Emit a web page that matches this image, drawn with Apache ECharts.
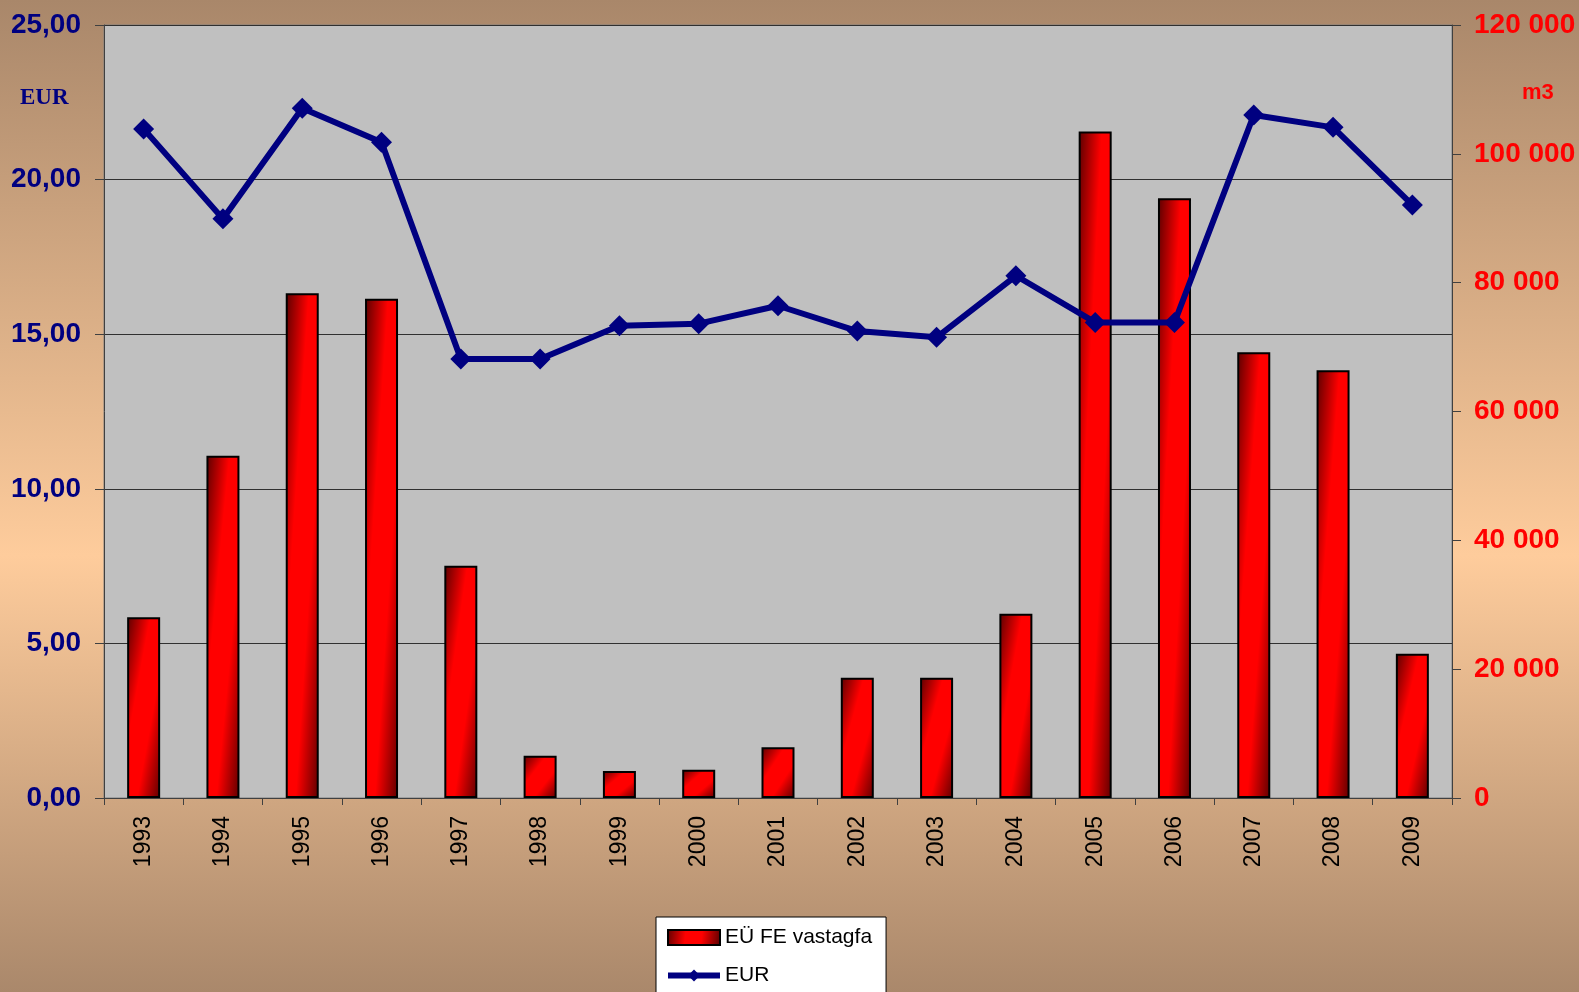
<!DOCTYPE html>
<html>
<head>
<meta charset="utf-8">
<title>EÜ FE vastagfa</title>
<script src="https://cdn.jsdelivr.net/npm/echarts@6/dist/echarts.min.js"></script>
<style>
  html, body { margin: 0; padding: 0; }
  #chart { width: 1579px; height: 992px; }
</style>
</head>
<body>
<div id="chart"></div>
<script>
// data
const years = ['1993', '1994', '1995', '1996', '1997', '1998', '1999', '2000', '2001',
  '2002', '2003', '2004', '2005', '2006', '2007', '2008', '2009']
// m3, right axis
const volumes = [28050, 53140, 78350, 77510, 36060, 6570, 4190, 4400, 7870,
  18680, 18680, 28610, 103450, 93100, 69200, 66400, 22380]
// EUR, left axis
const prices = [21.64, 18.73, 22.31, 21.21, 14.2, 14.2, 15.27, 15.34, 15.92,
  15.1, 14.9, 16.89, 15.38, 15.38, 22.09, 21.69, 19.18]

const barName = 'EÜ FE vastagfa'
const lineName = 'EUR'
const BAR_W = 33
const font = '"Liberation Sans", Arial, sans-serif'

const stops = [
  { offset: 0, color: '#5a0000' },
  { offset: 0.35, color: '#ff0000' },
  { offset: 0.65, color: '#ff0000' },
  { offset: 1, color: '#5e0000' }
]

// diagonal gradient whose bands run corner to corner, like the office fill
function diagGradient(ratio) {
  const r2 = ratio * ratio
  return new echarts.graphic.LinearGradient(0, 0, 2 * r2 / (r2 + 1), 2 / (r2 + 1), stops)
}

function fmtEur(v) {
  return v.toFixed(2).replace('.', ',')
}

function fmtVol(v) {
  return String(v).replace(/\B(?=(\d{3})+(?!\d))/g, ' ')
}

const chart = echarts.init(document.getElementById('chart'))

chart.setOption({
  animation: false,
  backgroundColor: new echarts.graphic.LinearGradient(0, 0, 0, 1, [
    { offset: 0, color: '#a9876a' },
    { offset: 0.56, color: '#fecc9c' },
    { offset: 1, color: '#aa886b' }
  ]),
  grid: {
    left: 104, right: 127, top: 25, bottom: 194,
    show: true,
    backgroundColor: '#c0c0c0',
    borderColor: '#808080',
    borderWidth: 1,
    containLabel: false,
    outerBoundsMode: 'none'
  },
  legend: {
    orient: 'vertical',
    left: 656,
    top: 917,
    height: 200,
    padding: [10, 14, 24, 9],
    itemGap: 17,
    itemWidth: 52,
    itemHeight: 15,
    backgroundColor: '#ffffff',
    borderColor: '#000000',
    borderWidth: 1,
    borderRadius: 0,
    textStyle: { fontFamily: font, fontSize: 21, color: '#000' },
    data: [
      { name: barName, icon: 'rect' },
      { name: lineName, lineStyle: { width: 6, color: '#000080' } }
    ]
  },
  xAxis: {
    type: 'category',
    data: years,
    axisLine: { lineStyle: { color: '#404040', width: 1 } },
    axisTick: { show: true, length: 7, lineStyle: { color: '#404040' } },
    axisLabel: {
      rotate: 90,
      margin: 18,
      fontFamily: font,
      fontSize: 23,
      color: '#000'
    }
  },
  yAxis: [
    {
      type: 'value',
      min: 0, max: 25, interval: 5,
      axisLine: { show: true, lineStyle: { color: '#404040' } },
      axisTick: { show: true, length: 9, lineStyle: { color: '#404040' } },
      splitLine: { show: true, lineStyle: { color: '#303030', width: 1 } },
      axisLabel: {
        margin: 23,
        fontFamily: font,
        fontSize: 28,
        fontWeight: 'bold',
        color: '#000080',
        formatter: fmtEur
      }
    },
    {
      type: 'value',
      min: 0, max: 120000, interval: 20000,
      position: 'right',
      axisLine: { show: true, lineStyle: { color: '#404040' } },
      axisTick: { show: true, length: 9, lineStyle: { color: '#404040' } },
      splitLine: { show: false },
      axisLabel: {
        margin: 22,
        fontFamily: font,
        fontSize: 28,
        fontWeight: 'bold',
        color: '#ff0000',
        formatter: fmtVol
      }
    }
  ],
  graphic: [
    {
      type: 'text', left: 20, top: 87,
      style: { text: 'EUR', fill: '#000080', font: 'bold 23px "Liberation Serif", "Times New Roman", serif' }
    },
    {
      type: 'text', left: 1522, top: 82,
      style: { text: 'm3', fill: '#ff0000', font: 'bold 22px "Liberation Sans", Arial, sans-serif' }
    }
  ],
  series: [
    {
      id: 'bars',
      name: barName,
      type: 'bar',
      yAxisIndex: 1,
      barWidth: BAR_W,
      data: volumes,
      itemStyle: {
        color: new echarts.graphic.LinearGradient(0, 0, 1, 0.4, stops),
        borderColor: '#000',
        borderWidth: 2
      },
      z: 2
    },
    {
      name: lineName,
      type: 'line',
      yAxisIndex: 0,
      data: prices,
      symbol: 'diamond',
      symbolSize: 21,
      lineStyle: { color: '#000080', width: 6 },
      itemStyle: { color: '#000080' },
      z: 5
    }
  ]
})

// bar gradients depend on each bar's shape, so read heights back from the axis
const base = chart.convertToPixel({ yAxisIndex: 1 }, 0)
chart.setOption({
  series: [{
    id: 'bars',
    data: volumes.map(v => {
      const h = Math.abs(base - chart.convertToPixel({ yAxisIndex: 1 }, v))
      return { value: v, itemStyle: { color: diagGradient(h / BAR_W) } }
    })
  }]
})
</script>
</body>
</html>
